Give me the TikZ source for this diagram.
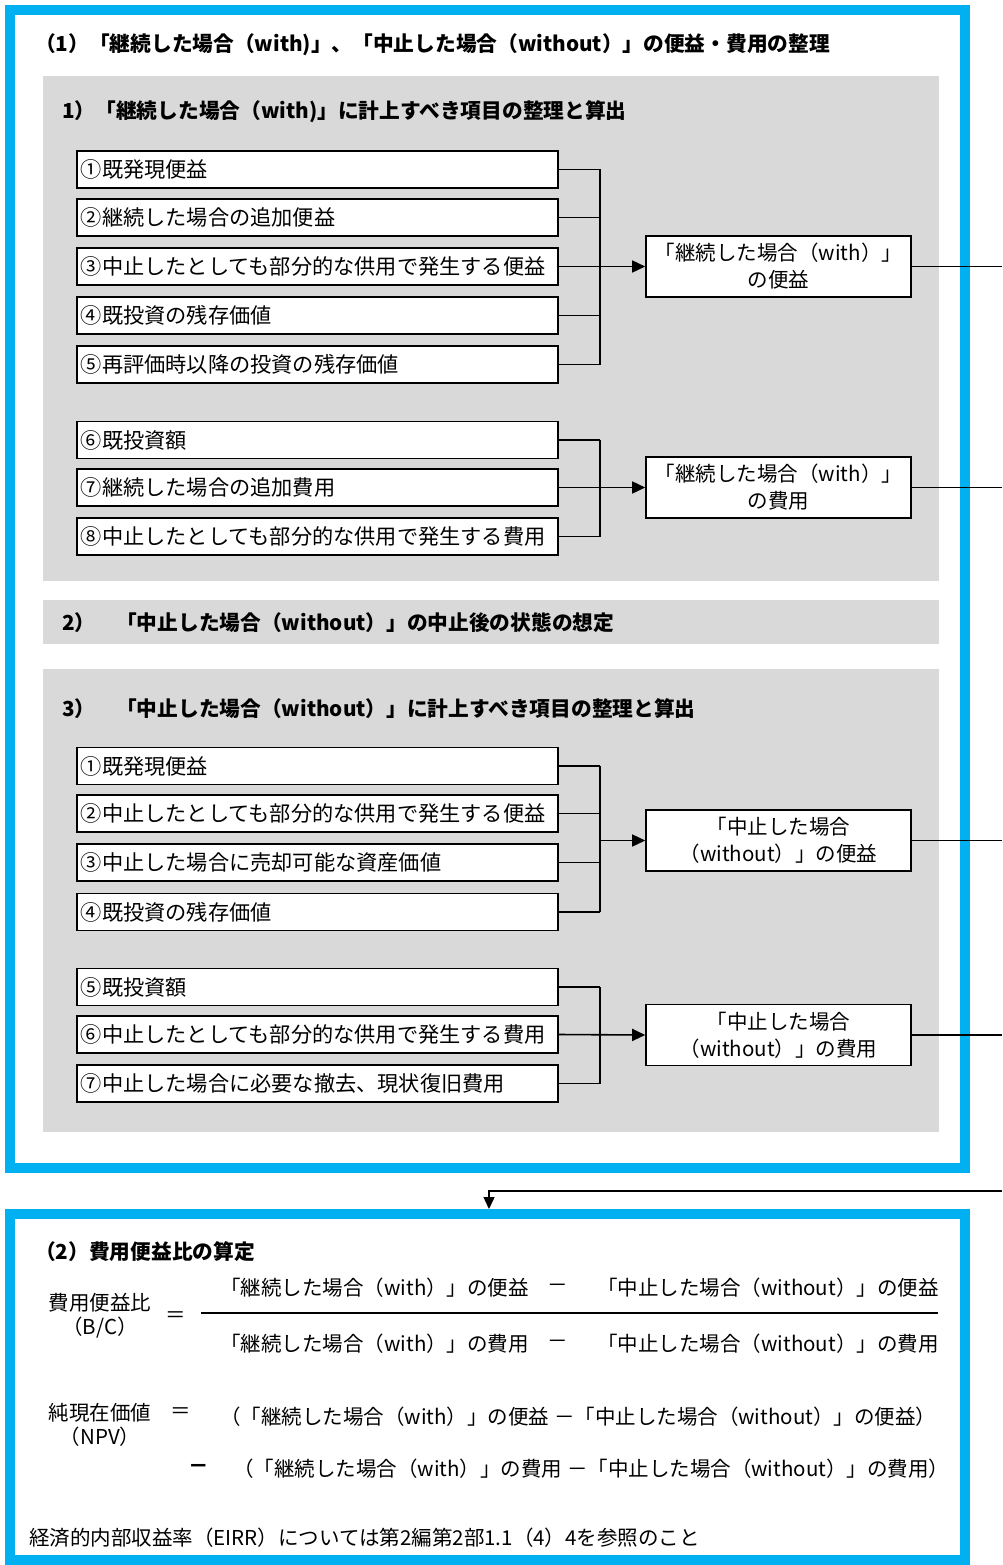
\documentclass[tikz,border=0pt]{standalone}
\usepackage{fontspec}
\setmainfont{Noto Sans CJK JP}
\usetikzlibrary{arrows.meta}
\definecolor{frameblue}{HTML}{00B0F0}
\definecolor{panelgrey}{HTML}{D9D9D9}
\begin{document}
\begin{tikzpicture}[x=1pt,y=-1pt,
  every node/.style={font=\fontsize{20.5}{27}\selectfont},
  frame/.style={draw=frameblue,line width=10pt,minimum width=954.5pt,inner sep=0pt},
  panel/.style={fill=panelgrey,minimum width=896pt,inner sep=0pt},
  lbox/.style={draw=black,fill=white,line width=1.6pt,anchor=west,text width=473pt,align=left,inner xsep=4pt,inner ysep=0pt,minimum height=37pt,font=\fontsize{21.2}{27}\selectfont},
  tbox/.style={draw=black,fill=white,line width=1.6pt,minimum width=265pt,minimum height=61pt,align=center,inner sep=0pt},
  txt/.style={anchor=west,inner sep=0pt},
  head/.style={txt,font=\fontsize{20.7}{27}\selectfont\bfseries},
  conn/.style={draw=black,line width=1.6pt},
  arr/.style={conn,-{Triangle[length=13pt,width=12pt]}},
  outl/.style={draw=black,line width=1.4pt}]
\useasboundingbox (0,0) rectangle (1002,1565);
\fill[white] (0,0) rectangle (1002,1565);
% frames
\node[frame,minimum height=1158pt] (top) at (487.25,589) {};
\node[frame,minimum height=346pt] (calc) at (487.25,1387) {};
% panels
\node[panel,minimum height=505pt] (p1) at (491,328.5) {};
\node[panel,minimum height=44pt] (p2) at (491,622) {};
\node[panel,minimum height=463pt] (p3) at (491,900.5) {};
% headings
\node[head] (h0) at (35,45) {（1）「継続した場合（with)」、「中止した場合（without）」の便益・費用の整理};
\node[head] (h1) at (62,112) {1）「継続した場合（with)」に計上すべき項目の整理と算出};
\node[head] (h2) at (62,623) {2）　「中止した場合（without）」の中止後の状態の想定};
\node[head] (h3) at (62,709) {3）　「中止した場合（without）」に計上すべき項目の整理と算出};
% group 1
\node[lbox] (a1) at (76,169.5) {①既発現便益};
\node[lbox] (a2) at (76,217.5) {②継続した場合の追加便益};
\node[lbox] (a3) at (76,266.5) {③中止したとしても部分的な供用で発生する便益};
\node[lbox] (a4) at (76,315.5) {④既投資の残存価値};
\node[lbox] (a5) at (76,364.5) {⑤再評価時以降の投資の残存価値};
\node[tbox] (w1) at (778.5,266.5) {「継続した場合（with）」\\の便益};
\coordinate (g1t) at (600,169.5);
\coordinate (g1b) at (600,364.5);
\foreach \n in {a1,a2,a4,a5} \draw[conn] (\n.east) -- (\n.east -| g1t);
\draw[conn] (g1t) -- (g1b);
\draw[arr] (a3.east) -- (w1.west);
% group 2
\node[lbox] (b1) at (76,440) {⑥既投資額};
\node[lbox] (b2) at (76,487.5) {⑦継続した場合の追加費用};
\node[lbox] (b3) at (76,536.5) {⑧中止したとしても部分的な供用で発生する費用};
\node[tbox] (w2) at (778.5,487.5) {「継続した場合（with）」\\の費用};
\coordinate (g2t) at (600,440);
\coordinate (g2b) at (600,536.5);
\foreach \n in {b1,b3} \draw[conn] (\n.east) -- (\n.east -| g2t);
\draw[conn] (g2t) -- (g2b);
\draw[arr] (b2.east) -- (w2.west);
% group 3
\node[lbox] (c1) at (76,766) {①既発現便益};
\node[lbox] (c2) at (76,813.5) {②中止したとしても部分的な供用で発生する便益};
\node[lbox] (c3) at (76,862.5) {③中止した場合に売却可能な資産価値};
\node[lbox] (c4) at (76,912) {④既投資の残存価値};
\node[tbox] (w3) at (778.5,840.5) {「中止した場合\\（without）」の便益};
\coordinate (g3t) at (600,766);
\coordinate (g3b) at (600,912);
\foreach \n in {c1,c2,c3,c4} \draw[conn] (\n.east) -- (\n.east -| g3t);
\draw[conn] (g3t) -- (g3b);
\draw[arr] (g3t |- w3.west) -- (w3.west);
% group 4
\node[lbox] (d1) at (76,987) {⑤既投資額};
\node[lbox] (d2) at (76,1034.5) {⑥中止したとしても部分的な供用で発生する費用};
\node[lbox] (d3) at (76,1083.5) {⑦中止した場合に必要な撤去、現状復旧費用};
\node[tbox] (w4) at (778.5,1035) {「中止した場合\\（without）」の費用};
\coordinate (g4t) at (600,987);
\coordinate (g4b) at (600,1083.5);
\foreach \n in {d1,d3} \draw[conn] (\n.east) -- (\n.east -| g4t);
\draw[conn] (g4t) -- (g4b);
\draw[arr] (d2.east) -- (w4.west);
% outputs to the right edge
\coordinate (redge) at (1002,0);
\foreach \n in {w1,w2,w3,w4} \draw[outl] (\n.east) -- (\n.east -| redge);
\coordinate (rin) at (1002,1191);
\coordinate (bend) at (489,1191);
\draw[outl,-{Triangle[length=12pt,width=11pt]}] (rin) -- (bend) -- (bend |- calc.north);
% bottom frame content
\node[head] (h4) at (35,1252) {（2）費用便益比の算定};
\node[anchor=center,align=center,inner sep=0pt,font=\fontsize{20.5}{24}\selectfont] (bc) at (100,1316) {費用便益比\\（B/C）};
\node[inner sep=0pt] (eq1) at (176,1317) {＝};
\node[txt] (n1) at (220,1288) {「継続した場合（with）」の便益};
\node[inner sep=0pt] (m1) at (558,1288) {－};
\node[txt] (n2) at (597,1288) {「中止した場合（without）」の便益};
\coordinate (fl) at (201,1313);
\coordinate (fr) at (938,1313);
\draw[line width=1.6pt] (fl) -- (fr);
\node[txt] (d1n) at (220,1344) {「継続した場合（with）」の費用};
\node[inner sep=0pt] (m2) at (558,1344) {－};
\node[txt] (d2n) at (597,1344) {「中止した場合（without）」の費用};
\node[anchor=center,align=center,inner sep=0pt,font=\fontsize{20.5}{24}\selectfont] (npv) at (100,1425) {純現在価値\\（NPV）};
\node[inner sep=0pt] (eq2) at (181,1413) {＝};
\node[txt] (l1) at (220,1417) {（「継続した場合（with）」の便益 －「中止した場合（without）」の便益）};
\node[inner sep=0pt,font=\fontsize{20.5}{27}\selectfont\bfseries] (m3) at (199,1469) {－};
\node[txt] (l2) at (233,1469) {（「継続した場合（with）」の費用 －「中止した場合（without）」の費用）};
\node[txt] (eirr) at (29,1538) {経済的内部収益率（EIRR）については第2編第2部1.1（4）4を参照のこと};
\end{tikzpicture}
\end{document}
